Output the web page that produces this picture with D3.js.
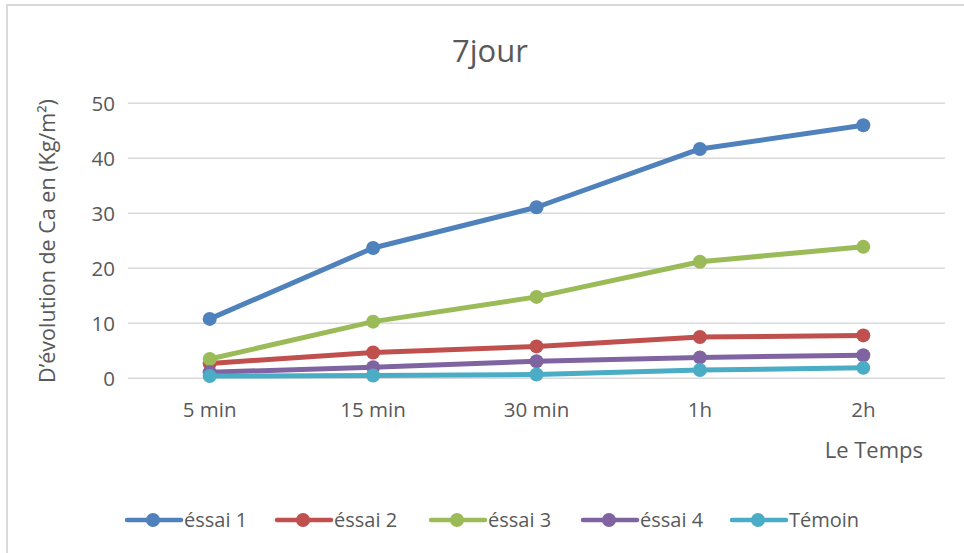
<!DOCTYPE html>
<html lang="fr">
<head>
<meta charset="UTF-8" />
<title>7jour</title>
<style>
  html, body { margin: 0; padding: 0; background: #fff; }
  svg text { font-family: "Open Sans", sans-serif; fill: #595959; }
</style>
</head>
<body>
<svg id="chart" width="964" height="553"></svg>
<script src="https://cdn.jsdelivr.net/npm/d3@7"></script>
<script>
// === data ===
var categories = ["5 min", "15 min", "30 min", "1h", "2h"];
var seriesNames = ["éssai 1", "éssai 2", "éssai 3", "éssai 4", "Témoin"];
var essai1 = [10.8, 23.7, 31.1, 41.7, 46.0];
var essai2 = [2.7, 4.7, 5.8, 7.5, 7.8];
var essai3 = [3.5, 10.3, 14.8, 21.2, 23.9];
var essai4 = [1.1, 2.0, 3.1, 3.8, 4.2];
var temoin = [0.4, 0.5, 0.7, 1.5, 1.9];
var yTicks = [0, 10, 20, 30, 40, 50];
var colors = ["#4f81bd", "#c0504d", "#9bbb59", "#8064a2", "#4bacc6"];

var series = [essai1, essai2, essai3, essai4, temoin].map(function(v, i) {
  return { name: seriesNames[i], values: v, color: colors[i] };
});

var svg = d3.select("#chart");

// outer chart border (runs off the right and bottom edge)
svg.append("rect")
  .attr("x", 7).attr("y", 5)
  .attr("width", 970).attr("height", 560)
  .attr("fill", "none")
  .attr("stroke", "#d9d9d9")
  .attr("stroke-width", 2);

var plot = { left: 128, right: 945, top: 103.3, bottom: 378.3 };

var x = d3.scaleBand()
  .domain(categories)
  .range([plot.left, plot.right]);

var y = d3.scaleLinear()
  .domain([0, 50])
  .range([plot.bottom, plot.top]);

// gridlines
svg.append("g")
  .selectAll("line")
  .data(yTicks)
  .join("line")
  .attr("x1", plot.left).attr("x2", plot.right)
  .attr("y1", function(d) { return y(d); })
  .attr("y2", function(d) { return y(d); })
  .attr("stroke", "#d9d9d9")
  .attr("stroke-width", 1.5);

// y axis labels
var yAxis = svg.append("g")
  .attr("transform", "translate(" + (plot.left - 13) + ",0)")
  .call(d3.axisLeft(y).tickValues(yTicks).tickSize(0).tickPadding(0));
yAxis.select(".domain").remove();
yAxis.selectAll("text")
  .attr("font-size", 20.5)
  .attr("dy", "0.35em");

// x axis labels
var xAxis = svg.append("g")
  .attr("transform", "translate(0," + plot.bottom + ")")
  .call(d3.axisBottom(x).tickSize(0).tickPadding(0));
xAxis.select(".domain").remove();
xAxis.selectAll("text")
  .attr("font-size", 20.5)
  .attr("y", 39)
  .attr("dy", 0);

// title
svg.append("text")
  .attr("x", 490).attr("y", 62)
  .attr("text-anchor", "middle")
  .attr("font-size", 31)
  .text("7jour");

// axis titles
svg.append("text")
  .attr("transform", "translate(55,241) rotate(-90)")
  .attr("text-anchor", "middle")
  .attr("font-size", 21.5)
  .text("D’évolution de Ca en (Kg/m²)");

svg.append("text")
  .attr("x", 923).attr("y", 458)
  .attr("text-anchor", "end")
  .attr("font-size", 22)
  .text("Le Temps");

// lines
var line = d3.line()
  .x(function(d, i) { return x(categories[i]) + x.bandwidth() / 2; })
  .y(function(d) { return y(d); });

var g = svg.append("g")
  .selectAll("g")
  .data(series)
  .join("g");

g.append("path")
  .attr("d", function(s) { return line(s.values); })
  .attr("fill", "none")
  .attr("stroke", function(s) { return s.color; })
  .attr("stroke-width", 5)
  .attr("stroke-linejoin", "round")
  .attr("stroke-linecap", "round");

g.selectAll("circle")
  .data(function(s) { return s.values.map(function(v, i) { return { v: v, i: i, color: s.color }; }); })
  .join("circle")
  .attr("cx", function(d) { return x(categories[d.i]) + x.bandwidth() / 2; })
  .attr("cy", function(d) { return y(d.v); })
  .attr("r", 7)
  .attr("fill", function(d) { return d.color; });

// legend
var legendX = [153, 303, 457, 609, 758];
var legend = svg.append("g")
  .attr("transform", "translate(0,520)")
  .selectAll("g")
  .data(series)
  .join("g")
  .attr("transform", function(d, i) { return "translate(" + legendX[i] + ",0)"; });

legend.append("line")
  .attr("x1", -26).attr("x2", 28)
  .attr("stroke", function(d) { return d.color; })
  .attr("stroke-width", 4.5)
  .attr("stroke-linecap", "round");

legend.append("circle")
  .attr("r", 7)
  .attr("fill", function(d) { return d.color; });

legend.append("text")
  .attr("x", 31)
  .attr("dy", "0.35em")
  .attr("font-size", 20)
  .text(function(d) { return d.name; });
</script>
</body>
</html>
